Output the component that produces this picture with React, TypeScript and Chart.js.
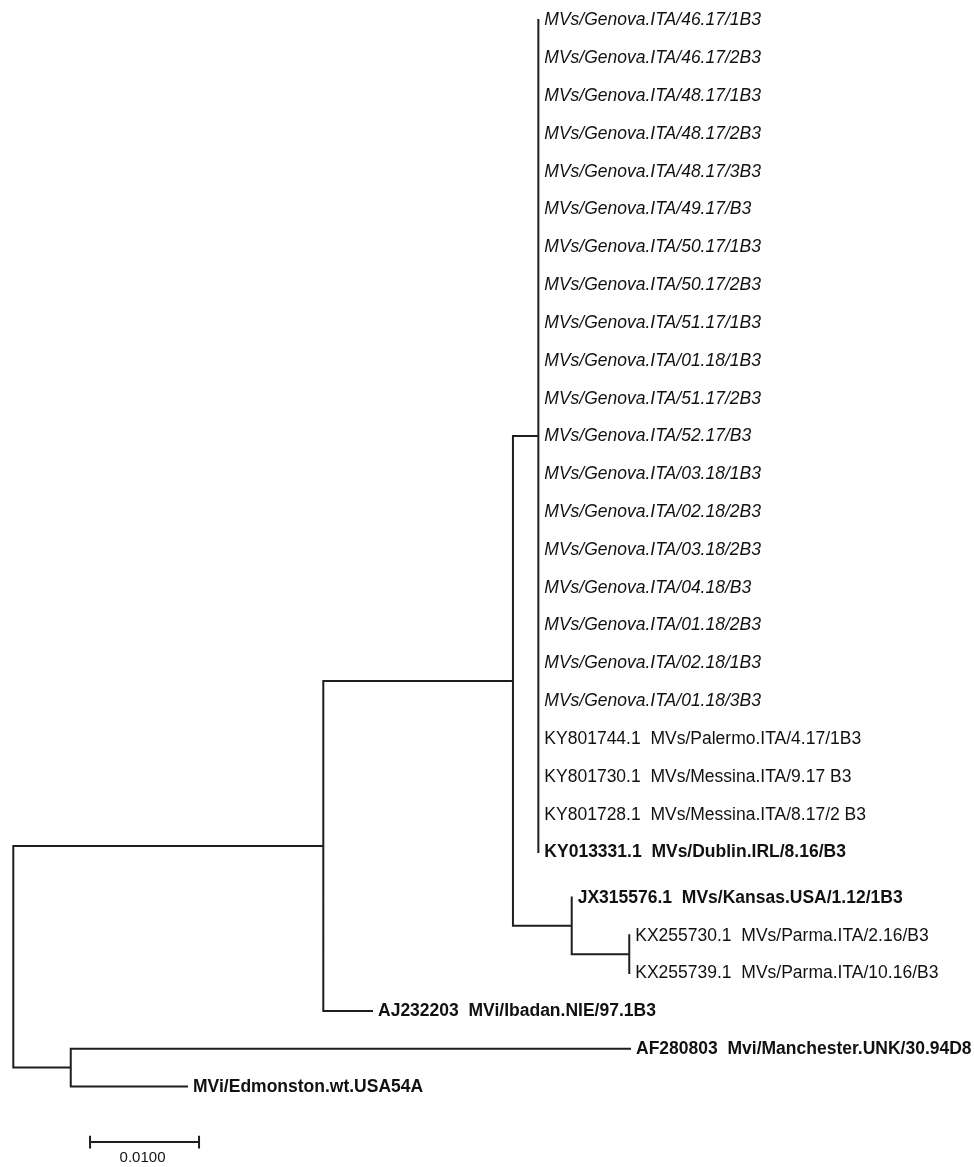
import React, { useEffect, useRef } from "react";
import { Chart, registerables } from "chart.js";

Chart.register(...registerables);

// ---- Tree data ----
// Internal nodes (distance from root in substitutions/site, parent index)
const nodeNames = ["root", "n1", "n2", "nGenova", "nKansas", "nParma", "nOut"];
const nodeDepths = [0, 0.02844, 0.04584, 0.04817, 0.05123, 0.05651, 0.00527];
const nodeParents = [-1, 0, 1, 2, 2, 4, 0];

// Leaves
const leafLabels = [
  "MVs/Genova.ITA/46.17/1B3",
  "MVs/Genova.ITA/46.17/2B3",
  "MVs/Genova.ITA/48.17/1B3",
  "MVs/Genova.ITA/48.17/2B3",
  "MVs/Genova.ITA/48.17/3B3",
  "MVs/Genova.ITA/49.17/B3",
  "MVs/Genova.ITA/50.17/1B3",
  "MVs/Genova.ITA/50.17/2B3",
  "MVs/Genova.ITA/51.17/1B3",
  "MVs/Genova.ITA/01.18/1B3",
  "MVs/Genova.ITA/51.17/2B3",
  "MVs/Genova.ITA/52.17/B3",
  "MVs/Genova.ITA/03.18/1B3",
  "MVs/Genova.ITA/02.18/2B3",
  "MVs/Genova.ITA/03.18/2B3",
  "MVs/Genova.ITA/04.18/B3",
  "MVs/Genova.ITA/01.18/2B3",
  "MVs/Genova.ITA/02.18/1B3",
  "MVs/Genova.ITA/01.18/3B3",
  "KY801744.1  MVs/Palermo.ITA/4.17/1B3",
  "KY801730.1  MVs/Messina.ITA/9.17 B3",
  "KY801728.1  MVs/Messina.ITA/8.17/2 B3",
  "KY013331.1  MVs/Dublin.IRL/8.16/B3",
  "JX315576.1  MVs/Kansas.USA/1.12/1B3",
  "KX255730.1  MVs/Parma.ITA/2.16/B3",
  "KX255739.1  MVs/Parma.ITA/10.16/B3",
  "AJ232203  MVi/Ibadan.NIE/97.1B3",
  "AF280803  Mvi/Manchester.UNK/30.94D8",
  "MVi/Edmonston.wt.USA54A",
];
const leafRows = [
  0, 1, 2, 3, 4, 5, 6, 7, 8, 9, 10, 11, 12, 13, 14, 15, 16, 17, 18, 19, 20, 21, 22,
  23.2, 24.2, 25.2, 26.2, 27.2, 28.2,
];
const leafDepths = [
  0.04817, 0.04817, 0.04817, 0.04817, 0.04817, 0.04817, 0.04817, 0.04817,
  0.04817, 0.04817, 0.04817, 0.04817, 0.04817, 0.04817, 0.04817, 0.04817,
  0.04817, 0.04817, 0.04817, 0.04817, 0.04817, 0.04817, 0.04817,
  0.05123, 0.05651, 0.05651, 0.03291, 0.05658, 0.01594,
];
const leafParents = [
  3, 3, 3, 3, 3, 3, 3, 3, 3, 3, 3, 3, 3, 3, 3, 3, 3, 3, 3, 3, 3, 3, 3,
  4, 5, 5, 1, 6, 6,
];
const leafStyles = [
  "italic", "italic", "italic", "italic", "italic", "italic", "italic", "italic",
  "italic", "italic", "italic", "italic", "italic", "italic", "italic", "italic",
  "italic", "italic", "italic",
  "normal", "normal", "normal", "bold",
  "bold", "normal", "normal", "bold", "bold", "bold",
];

// Scale bar
const scaleBarStart = 0.00704;
const scaleBarLength = 0.01;
const scaleBarRow = 29.67;
const scaleBarLabel = "0.0100";

const LINE_COLOR = "#1e1e1e";
const FONT = "'Liberation Sans', Arial, sans-serif";

function buildTree() {
  const nNodes = nodeNames.length;
  const childYs: number[][] = Array.from({ length: nNodes }, () => []);
  const childNodes: number[][] = Array.from({ length: nNodes }, () => []);
  nodeParents.forEach((p, i) => {
    if (p >= 0) childNodes[p].push(i);
  });
  const nodeY: number[] = new Array(nNodes).fill(NaN);
  const computeY = (i: number): number => {
    const ys: number[] = [];
    leafParents.forEach((p, li) => {
      if (p === i) ys.push(leafRows[li]);
    });
    childNodes[i].forEach((c) => ys.push(computeY(c)));
    childYs[i] = ys;
    const y = (Math.min(...ys) + Math.max(...ys)) / 2;
    nodeY[i] = y;
    return y;
  };
  computeY(0);

  const segs: { x: number; y: number | null }[] = [];
  const push = (x1: number, y1: number, x2: number, y2: number) => {
    segs.push({ x: x1, y: y1 }, { x: x2, y: y2 }, { x: x2, y: null });
  };
  // vertical connectors
  for (let i = 0; i < nNodes; i++) {
    const ys = childYs[i];
    push(nodeDepths[i], Math.min(...ys), nodeDepths[i], Math.max(...ys));
  }
  // horizontal branches of internal nodes
  for (let i = 0; i < nNodes; i++) {
    const p = nodeParents[i];
    if (p >= 0) push(nodeDepths[p], nodeY[i], nodeDepths[i], nodeY[i]);
  }
  // horizontal branches of leaves
  leafParents.forEach((p, li) => {
    if (leafDepths[li] > nodeDepths[p])
      push(nodeDepths[p], leafRows[li], leafDepths[li], leafRows[li]);
  });
  return segs;
}

function buildScaleBar() {
  const a = scaleBarStart;
  const b = scaleBarStart + scaleBarLength;
  const t = 0.17;
  return [
    { x: a, y: scaleBarRow },
    { x: b, y: scaleBarRow },
    { x: b, y: null },
    { x: a, y: scaleBarRow - t },
    { x: a, y: scaleBarRow + t },
    { x: a, y: null },
    { x: b, y: scaleBarRow - t },
    { x: b, y: scaleBarRow + t },
  ];
}

const labelPlugin = {
  id: "treeLabels",
  afterDatasetsDraw(chart: any) {
    const { ctx, scales } = chart;
    const xs = scales.x;
    const ys = scales.y;
    ctx.save();
    ctx.fillStyle = "#111";
    ctx.textBaseline = "middle";
    ctx.textAlign = "left";
    leafLabels.forEach((label, i) => {
      const st = leafStyles[i];
      const style = st === "italic" ? "italic " : "";
      const weight = st === "bold" ? "bold " : "";
      ctx.font = `${style}${weight}17.5px ${FONT}`;
      const px = xs.getPixelForValue(leafDepths[i]) + 6;
      const py = ys.getPixelForValue(leafRows[i]) + 0.5;
      ctx.fillText(label, px, py);
    });
    ctx.font = `15px ${FONT}`;
    ctx.textAlign = "center";
    ctx.fillText(
      scaleBarLabel,
      xs.getPixelForValue(scaleBarStart + scaleBarLength / 2) - 2,
      ys.getPixelForValue(scaleBarRow + 0.42)
    );
    ctx.restore();
  },
};

export default function App() {
  const ref = useRef<HTMLCanvasElement | null>(null);
  useEffect(() => {
    if (!ref.current) return;
    const chart = new Chart(ref.current, {
      type: "line",
      data: {
        datasets: [
          {
            data: buildTree() as any,
            borderColor: LINE_COLOR,
            borderWidth: 2,
            pointRadius: 0,
            spanGaps: false,
            borderCapStyle: "square",
            tension: 0,
          },
          {
            data: buildScaleBar() as any,
            borderColor: LINE_COLOR,
            borderWidth: 2,
            pointRadius: 0,
            spanGaps: false,
            borderCapStyle: "butt",
            tension: 0,
          },
        ],
      },
      options: {
        animation: false,
        responsive: false,
        parsing: false as any,
        layout: { padding: 0, autoPadding: false } as any,
        plugins: { legend: { display: false }, tooltip: { enabled: false } },
        events: [],
        scales: {
          x: {
            type: "linear",
            display: false,
            min: -13.3 / 10900,
            max: (974 - 13.3) / 10900,
          },
          y: {
            type: "linear",
            display: false,
            reverse: true,
            min: -20 / 37.82,
            max: (1167 - 20) / 37.82,
          },
        },
      },
      plugins: [labelPlugin],
    });
    return () => chart.destroy();
  }, []);
  return (
    <div style={{ position: "absolute", left: 0, top: 0, width: 974, height: 1167, background: "#fff" }}>
      <canvas ref={ref} width={974} height={1167} style={{ display: "block" }} />
    </div>
  );
}
